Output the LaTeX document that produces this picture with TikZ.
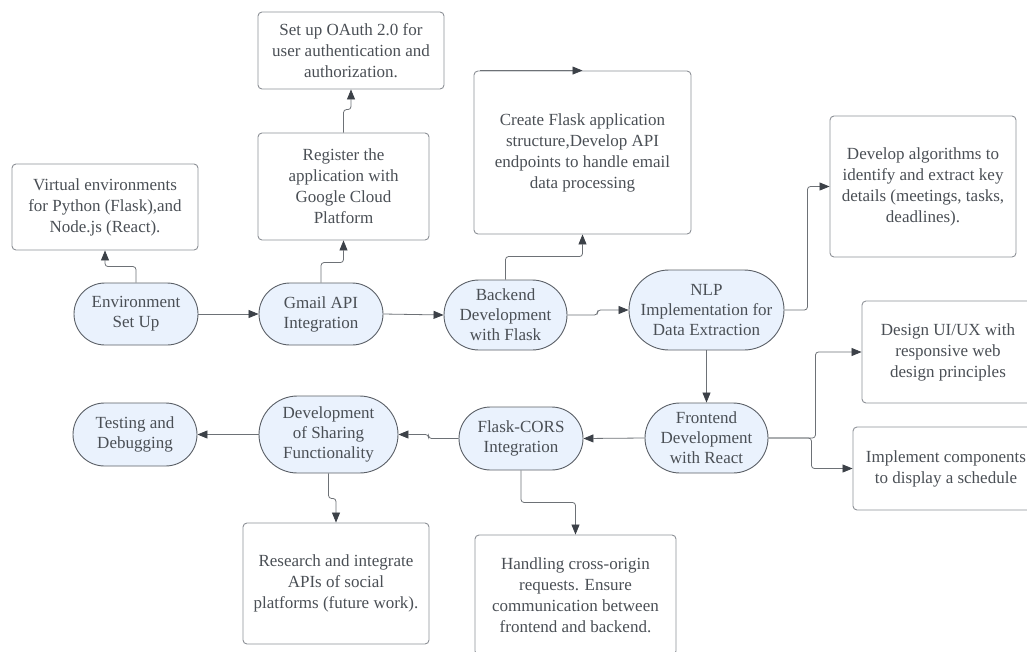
\documentclass[tikz,border=0pt]{standalone}
\usepackage{fontspec}
\setmainfont{Liberation Serif}
\usetikzlibrary{arrows.meta}
\definecolor{stfill}{HTML}{EAF2FD}
\definecolor{stline}{HTML}{5A5F66}
\definecolor{bxline}{HTML}{8C9096}
\definecolor{txt}{HTML}{4A4F55}
\definecolor{arrc}{HTML}{3C4148}
\tikzset{
  stadium/.style={draw=stline, fill=stfill, line width=0.9pt, inner sep=0pt, align=center, text=txt,
    font=\fontsize{17}{20}\selectfont},
  taskbox/.style={draw=bxline, line width=0.9pt, rounded corners=4pt, inner sep=0pt, align=center, text=txt,
    font=\fontsize{17}{21}\selectfont},
  arr/.style={draw=arrc!75, line width=0.8pt, rounded corners=3pt,
    -{Triangle[length=10pt,width=8pt,color=arrc,fill=arrc]}},
}
\begin{document}
\begin{tikzpicture}[x=1pt,y=-1pt]
\useasboundingbox (0,0) rectangle (1027,651);
\clip (0,0) rectangle (1027,651);
% stadium nodes
\node[stadium, minimum width=124pt, minimum height=62pt, rounded corners=31pt] (A) at (136,314) {Environment\\Set Up};
\node[stadium, minimum width=124pt, minimum height=62pt, rounded corners=31pt] (B) at (321,314) {Gmail API\\Integration};
\node[stadium, minimum width=123pt, minimum height=70pt, rounded corners=35pt] (C) at (505.5,315) {Backend\\Development\\with Flask};
\node[stadium, minimum width=155pt, minimum height=80pt, rounded corners=40pt] (D) at (706.5,310) {NLP\\Implementation for\\Data Extraction};
\node[stadium, minimum width=123pt, minimum height=70pt, rounded corners=35pt] (E) at (706.5,438) {Frontend\\Development\\with React};
\node[stadium, minimum width=124pt, minimum height=63pt, rounded corners=31.5pt] (F) at (521,438.5) {Flask-CORS\\Integration};
\node[stadium, minimum width=139pt, minimum height=77pt, rounded corners=38.5pt] (G) at (328.5,434.5) {Development\\of Sharing\\Functionality};
\node[stadium, minimum width=124pt, minimum height=63pt, rounded corners=31.5pt] (H) at (135,434.5) {Testing and\\Debugging};
% task boxes
\node[taskbox, minimum width=186pt, minimum height=86pt] (V) at (105,207) {Virtual environments\\for Python (Flask),and\\Node.js (React).};
\node[taskbox, minimum width=186pt, minimum height=77pt] (O) at (351,50.5) {Set up OAuth 2.0 for\\user authentication and\\authorization.};
\node[taskbox, minimum width=171pt, minimum height=107pt] (R) at (343.5,186.5) {Register the\\application with\\Google Cloud\\Platform};
\node[taskbox, minimum width=217pt, minimum height=163pt] (FB) at (582.5,152.5) {Create Flask application\\structure,Develop API\\endpoints to handle email\\data processing};
\node[taskbox, minimum width=186pt, minimum height=141pt] (N) at (923,186.5) {Develop algorithms to\\identify and extract key\\details (meetings, tasks,\\deadlines).};
\node[taskbox, minimum width=172pt, minimum height=102pt] (DU) at (948,352) {Design UI/UX with\\responsive web\\design principles};
\node[taskbox, minimum width=186pt, minimum height=83pt] (IC) at (946,468.5) {Implement components\\to display a schedule};
\node[taskbox, minimum width=186pt, minimum height=121pt] (RS) at (336,583.5) {Research and integrate\\APIs of social\\platforms (future work).};
\node[taskbox, minimum width=201pt, minimum height=120pt] (HB) at (575.5,595) {Handling cross-origin\\requests. Ensure\\communication between\\frontend and backend.};
% connectors
\draw[arr] (A.east) -- (B.west);
\draw[arr] (B.east) -- (C.west);
\draw[arr] (C.east) -- ++(30,0) |- (D.west);
\draw[arr] (D.south) -- (E.north);
\draw[arr] (E.west) -- (F.east);
\draw[arr] (F.west) -- ++(-30,0) |- (G.east);
\draw[arr] (G.west) -- (H.east);
\draw[arr] (A.north) -- ++(0,-16) -| (V.south);
\draw[arr] (B.north) -- ++(0,-20) -| (R.south);
\draw[arr] (R.north) -- ++(0,-23) -| (O.south);
\draw[arr] (C.north) -- ++(0,-23) -| (FB.south);
\draw[arr] ([xshift=6pt]FB.north west) -- (FB.north);
\draw[arr] (D.east) -- ++(23,0) |- (N.west);
\draw[arr] (E.east) -- ++(47,0) |- (DU.west);
\draw[arr] (E.east) -- ++(43,0) |- (IC.west);
\draw[arr] (G.south) -- ++(0,25) -| (RS.north);
\draw[arr] (F.south) -- ++(0,32) -| (HB.north);
\end{tikzpicture}
\end{document}
